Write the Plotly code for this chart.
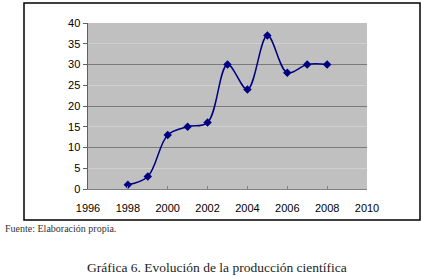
import plotly.graph_objects as go

years = [1998, 1999, 2000, 2001, 2002, 2003, 2004, 2005, 2006, 2007, 2008]
values = [1, 3, 13, 15, 16, 30, 24, 37, 28, 30, 30]
x_ticks = [1996, 1998, 2000, 2002, 2004, 2006, 2008, 2010]
y_ticks = [0, 5, 10, 15, 20, 25, 30, 35, 40]

W, H = 422, 277
L, R, T, B = 88, 55, 23, 88
pw, ph = W - L - R, H - T - B

def px(x):
    return (x - L) / pw

def py(y):
    return (H - B - y) / ph

fig = go.Figure()
fig.add_trace(go.Scatter(
    x=years, y=values, mode="lines+markers",
    line=dict(color="#000080", width=1.5, shape="spline", smoothing=1),
    marker=dict(symbol="diamond", size=6.5, color="#000080"),
    showlegend=False, hoverinfo="skip",
))
# invisible trace on secondary axis for darker major gridlines
fig.add_trace(go.Scatter(x=years, y=values, yaxis="y2", mode="markers",
                         marker=dict(opacity=0), showlegend=False, hoverinfo="skip"))

tickfont = dict(family="Liberation Sans, Arial, sans-serif", size=11, color="#000000")
fig.update_layout(
    width=W, height=H,
    margin=dict(l=L, r=R, t=T, b=B),
    paper_bgcolor="white",
    plot_bgcolor="#C0C0C0",
    xaxis=dict(range=[1996, 2010], tickvals=x_ticks, showgrid=False, zeroline=False,
               showline=True, linecolor="#808080", linewidth=1,
               ticks="inside", ticklen=3, tickcolor="#808080",
               ticklabelstandoff=9,
               tickfont=tickfont, fixedrange=True),
    yaxis=dict(range=[0, 40], tickvals=y_ticks, showgrid=True, gridcolor="#D0D0D0",
               gridwidth=1, zeroline=False, showline=True, linecolor="#606060",
               linewidth=1.5, ticks="outside", ticklen=4, tickcolor="#606060",
               tickfont=tickfont, fixedrange=True),
    yaxis2=dict(range=[0, 40], dtick=10, overlaying="y", showgrid=True,
                gridcolor="#7A7A7A", gridwidth=1, showticklabels=False,
                zeroline=False, showline=False, fixedrange=True),
    shapes=[dict(type="rect", xref="paper", yref="paper",
                 x0=px(24), x1=px(420), y0=py(220), y1=py(3),
                 line=dict(color="#000000", width=1.5), fillcolor="rgba(0,0,0,0)",
                 layer="below")],
    annotations=[
        dict(text="Fuente: Elaboración propia.", xref="paper", yref="paper",
             x=px(3), y=py(228), xanchor="left", yanchor="middle", showarrow=False,
             font=dict(family="Liberation Serif, Times New Roman, serif", size=10, color="#333333")),
        dict(text="Gráfica 6. Evolución de la producción científica", xref="paper", yref="paper",
             x=px(217), y=py(267), xanchor="center", yanchor="middle", showarrow=False,
             font=dict(family="Liberation Serif, Times New Roman, serif", size=13.5, color="#222222")),
    ],
)
fig.write_html("out.html", config={"displayModeBar": False, "staticPlot": True},
               post_script="document.body.style.margin='0';document.body.style.overflow='hidden';")
